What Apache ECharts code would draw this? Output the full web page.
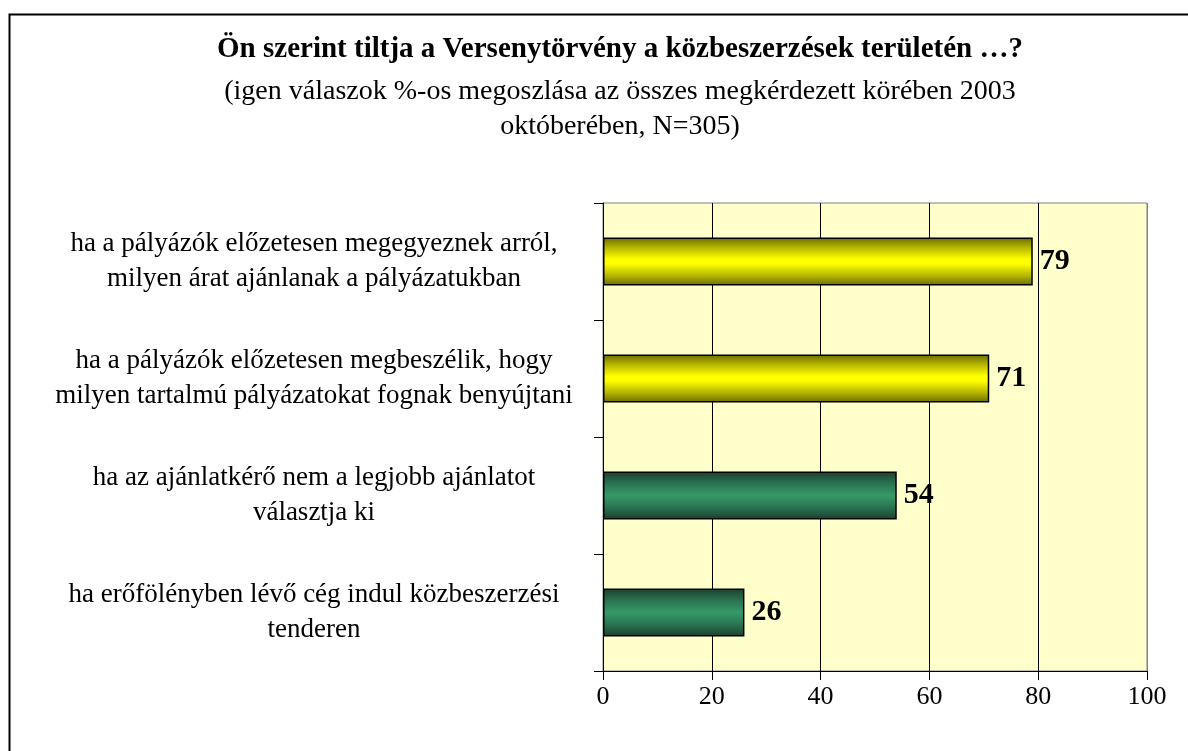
<!DOCTYPE html>
<html>
<head>
<meta charset="utf-8">
<script src="https://cdn.jsdelivr.net/npm/echarts@6/dist/echarts.min.js"></script>
<style>
html,body{margin:0;padding:0;background:#fff;}
#chart{width:1188px;height:751px;}
</style>
</head>
<body>
<div id="chart"></div>
<script>
var titleText = 'Ön szerint tiltja a Versenytörvény a közbeszerzések területén …?';
var subtitleText = '(igen válaszok %-os megoszlása az összes megkérdezett körében 2003\noktóberében, N=305)';
var categories = [
  'ha a pályázók előzetesen megegyeznek arról,\nmilyen árat ajánlanak a pályázatukban',
  'ha a pályázók előzetesen megbeszélik, hogy\nmilyen tartalmú pályázatokat fognak benyújtani',
  'ha az ajánlatkérő nem a legjobb ajánlatot\nválasztja ki',
  'ha erőfölényben lévő cég indul közbeszerzési\ntenderen'
];
var values = [79, 71, 54, 26];
var xTicks = [0, 20, 40, 60, 80, 100];

var font = '"Liberation Serif", "DejaVu Serif", serif';
var yellowGrad = new echarts.graphic.LinearGradient(0, 0, 0, 1, [
  {offset: 0, color: '#6b6b00'},
  {offset: 0.2, color: '#b3b300'},
  {offset: 0.45, color: '#ffff00'},
  {offset: 0.55, color: '#ffff00'},
  {offset: 0.8, color: '#b3b300'},
  {offset: 1, color: '#6b6b00'}
]);
var greenGrad = new echarts.graphic.LinearGradient(0, 0, 0, 1, [
  {offset: 0, color: '#1c3f2c'},
  {offset: 0.25, color: '#2a7350'},
  {offset: 0.5, color: '#359a69'},
  {offset: 0.75, color: '#2a7350'},
  {offset: 1, color: '#1c3f2c'}
]);

var chart = echarts.init(document.getElementById('chart'), null, {renderer: 'canvas'});
chart.setOption({
  animation: false,
  backgroundColor: '#fff',
  graphic: [{
    type: 'rect', left: 7, top: 12, z: 100,
    shape: {width: 1300, height: 900},
    style: {fill: 'none', stroke: '#000', lineWidth: 2}
  }],
  title: [{
    text: titleText,
    left: 615, top: 30, textAlign: 'center',
    textStyle: {fontFamily: font, fontWeight: 'bold', fontSize: 29, color: '#000'}
  }, {
    text: subtitleText,
    left: 615, top: 69, textAlign: 'center',
    textStyle: {fontFamily: font, fontWeight: 'normal', fontSize: 28, color: '#000', lineHeight: 35}
  }],
  grid: {
    left: 603, right: 41, top: 203, bottom: 80,
    show: true, backgroundColor: '#FFFFCC', borderColor: '#808080', borderWidth: 1
  },
  xAxis: {
    type: 'value', min: 0, max: 100, interval: 20,
    axisLine: {show: true, lineStyle: {color: '#000', width: 1}},
    axisTick: {show: true, length: 9, lineStyle: {color: '#000'}},
    axisLabel: {
      fontFamily: font, fontSize: 26, color: '#000', margin: 13,
      formatter: function (v) { return xTicks.indexOf(v) >= 0 ? String(v) : ''; }
    },
    splitLine: {show: true, lineStyle: {color: ['#000', '#000', '#000', '#000', '#000', '#808080'], width: 1}}
  },
  yAxis: {
    type: 'category', data: categories, inverse: true,
    axisLine: {show: true, lineStyle: {color: '#000', width: 1}},
    axisTick: {show: true, length: 9, lineStyle: {color: '#000'}},
    axisLabel: {
      fontFamily: font, fontSize: 27, color: '#000', lineHeight: 35,
      align: 'center', margin: 289, padding: [9, 0, 0, 0]
    },
    splitLine: {show: false}
  },
  series: [{
    type: 'bar',
    data: values,
    barWidth: 48,
    itemStyle: {
      color: function (p) { return p.dataIndex < 2 ? yellowGrad : greenGrad; },
      borderColor: '#000', borderWidth: 1.5
    },
    label: {
      show: true, position: 'right', distance: 7,
      fontFamily: font, fontWeight: 'bold', fontSize: 30, color: '#000'
    }
  }]
});
</script>
</body>
</html>
